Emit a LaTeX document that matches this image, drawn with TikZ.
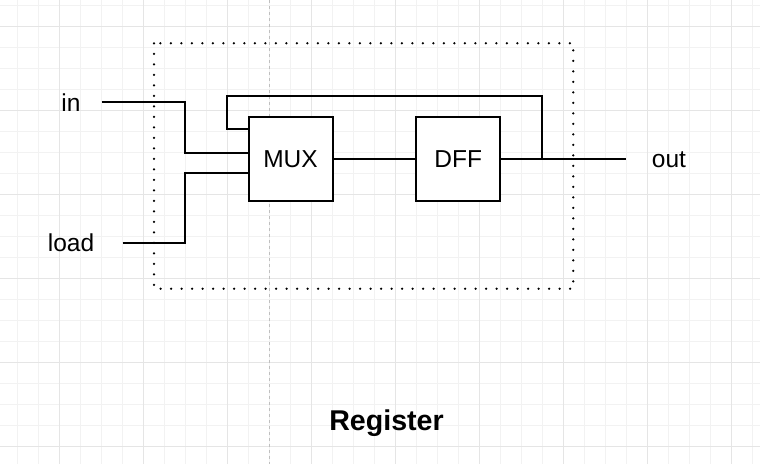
\documentclass[tikz,border=0pt]{standalone}
\usepackage{fontspec}
\setmainfont{Liberation Sans}
\begin{document}
\begin{tikzpicture}[x=1pt,y=-1pt,
  gridminor/.style={draw=black!5,line width=0.8pt},
  gridmajor/.style={draw=black!10,line width=0.9pt},
  guide/.style={draw=black!25,line width=0.8pt,dash pattern=on 3pt off 3pt},
  wire/.style={draw=black,line width=2pt},
  block/.style={draw=black,line width=2pt,fill=white,minimum width=84pt,minimum height=84pt,inner sep=0pt,font=\fontsize{24.5}{28}\selectfont},
  lbl/.style={inner sep=0pt,font=\fontsize{24.5}{28}\selectfont},
  frame/.style={draw=black,line width=2.5pt,dash pattern=on 0pt off 10.5pt,line cap=round},
  title/.style={inner sep=0pt,font=\fontsize{28.6}{32}\selectfont\bfseries}]
\fill[white] (0,0) rectangle (760,464);
\useasboundingbox (0,0) rectangle (760,464);
% grid
\foreach \x in {17.5,38.5,...,760} {\draw[gridminor] (\x,0) -- (\x,464);}
\foreach \y in {5,26,...,464} {\draw[gridminor] (0,\y) -- (760,\y);}
\foreach \x in {59.5,143.5,...,760} {\draw[gridmajor] (\x,0) -- (\x,464);}
\foreach \y in {26,110,...,464} {\draw[gridmajor] (0,\y) -- (760,\y);}
\draw[guide] (269.3,0) -- (269.3,464);
% frame
\draw[frame] (154,43.3) rectangle (573.3,288.7);
% blocks
\node[block] (mux) at (290.5,159) {MUX};
\node[block] (dff) at (458.2,159) {DFF};
% labels
\node[lbl] (in) at (71,103) {in};
\node[lbl] (load) at (71,243) {load};
\node[lbl] (out) at (669,160) {out};
\node[title] (reg) at (386.5,423.5) {Register};
% coordinates
\coordinate (inw) at (101.7,102.3);
\coordinate (loadw) at (122.7,242.7);
\coordinate (outw) at (625.7,159);
\coordinate (fb) at (542.3,159);
\coordinate (muxA) at ([yshift=6.3pt]mux.west);
\coordinate (muxB) at ([yshift=-14.3pt]mux.west);
\coordinate (muxC) at ([yshift=30.3pt]mux.west);
% wires
\draw[wire] (inw) -| (185.3,152.7) -- (muxA);
\draw[wire] (loadw) -| (185.3,173.3) -- (muxB);
\draw[wire] (mux.east) -- (dff.west);
\draw[wire] (dff.east) -- (outw);
\draw[wire] (fb) |- (227,96) |- (muxC);
\end{tikzpicture}
\end{document}
